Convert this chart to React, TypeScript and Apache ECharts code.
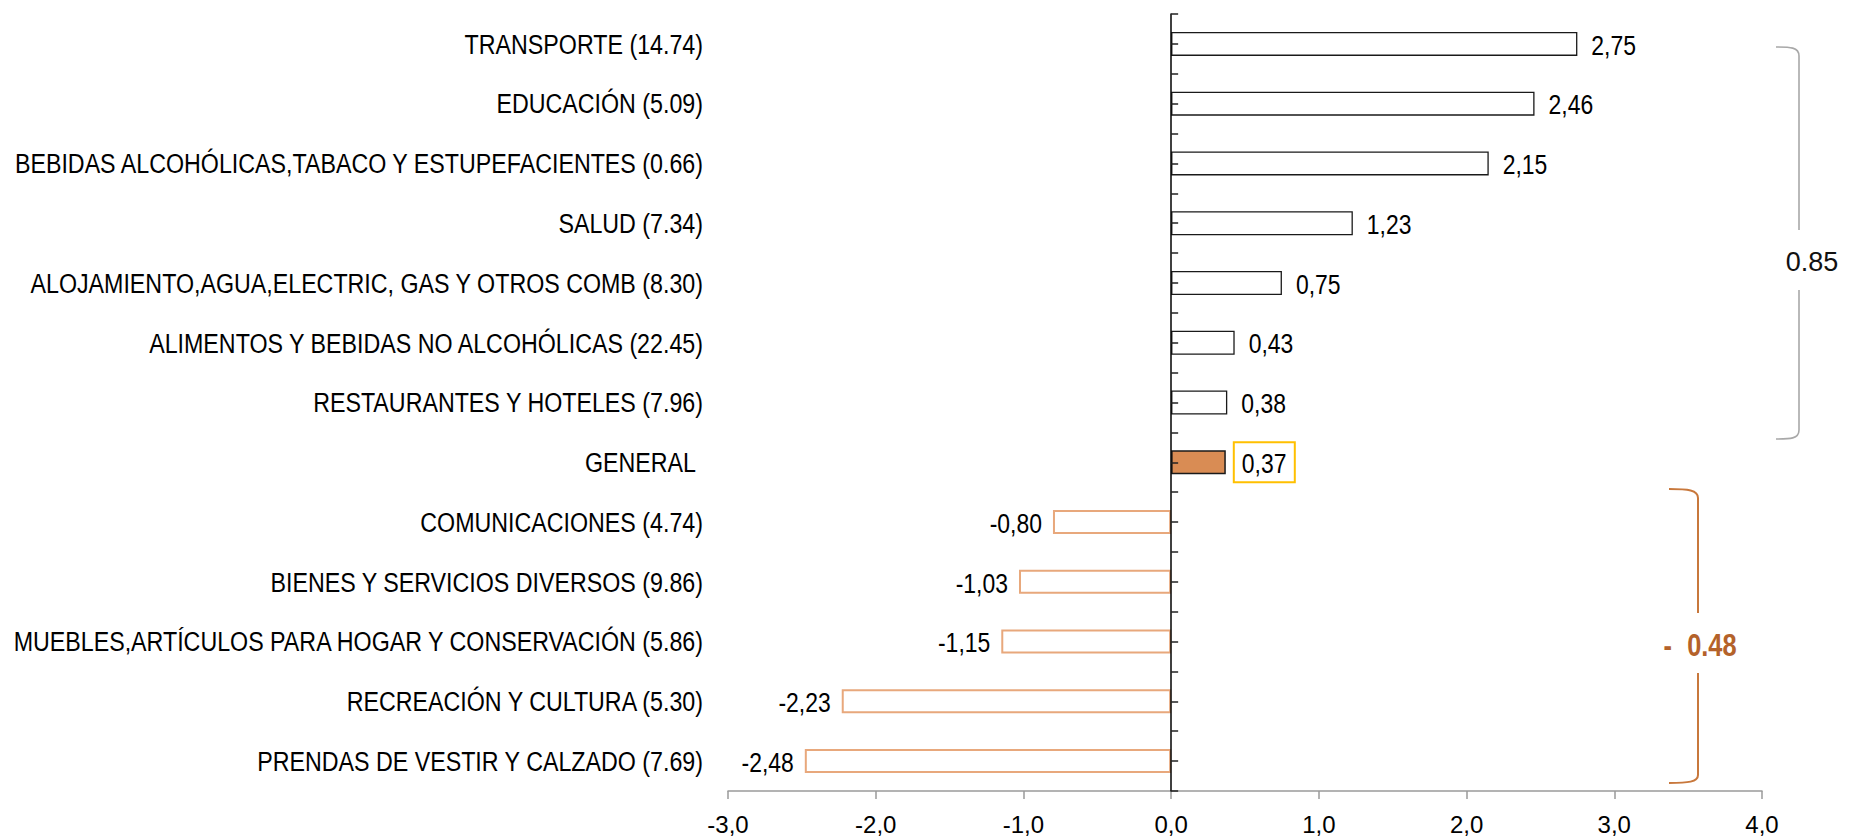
import React, { useEffect, useRef } from "react";
import * as echarts from "echarts";

const categories = [
  "TRANSPORTE",
  "EDUCACIÓN",
  "BEBIDAS ALCOHÓLICAS,TABACO Y ESTUPEFACIENTES",
  "SALUD",
  "ALOJAMIENTO,AGUA,ELECTRIC, GAS Y OTROS COMB",
  "ALIMENTOS Y BEBIDAS NO ALCOHÓLICAS",
  "RESTAURANTES Y HOTELES",
  "GENERAL",
  "COMUNICACIONES",
  "BIENES Y SERVICIOS DIVERSOS",
  "MUEBLES,ARTÍCULOS PARA HOGAR Y CONSERVACIÓN",
  "RECREACIÓN Y CULTURA",
  "PRENDAS DE VESTIR Y CALZADO",
];
const weights = ["14.74", "5.09", "0.66", "7.34", "8.30", "22.45", "7.96", "", "4.74", "9.86", "5.86", "5.30", "7.69"];
const values = [2.75, 2.46, 2.15, 1.23, 0.75, 0.43, 0.38, 0.37, -0.8, -1.03, -1.15, -2.23, -2.48];
const generalName = "GENERAL";
const xMin = -3;
const xMax = 4;
const xStep = 1;
const upGroupText = "0.85";
const downGroupSign = "-";
const downGroupValue = "0.48";

const FONT = '"Liberation Sans", Arial, sans-serif';
const CAT_SCALE = 0.83;
const LBL_SCALE = 0.85;

const fmt = (v: number, d: number) => v.toFixed(d).replace(".", ",");

echarts.graphic.registerShape(
  "braceUp",
  echarts.graphic.extendPath(
    "M1776,47 C1790,47 1799,47 1799,56 L1799,230 M1799,290 L1799,430 C1799,439 1790,439 1776,439",
    {}
  )
);
echarts.graphic.registerShape(
  "braceDown",
  echarts.graphic.extendPath(
    "M1669,489 C1688,489 1698,490 1698,498 L1698,613 M1698,673 L1698,775 C1698,782 1688,783 1669,783",
    {}
  )
);

export default function App() {
  const ref = useRef<HTMLDivElement>(null);
  useEffect(() => {
    document.body.style.margin = "0";
    const chart = echarts.init(ref.current!, undefined, { renderer: "svg" });
    const labels = categories.map((c, i) => (weights[i] ? `${c} (${weights[i]})` : c));
    const data = values.map((v, i) => {
      const isGen = categories[i] === generalName;
      if (isGen) {
        return { value: v, itemStyle: { color: "#D98C54", borderColor: "#1a1a1a", borderWidth: 1.5 } };
      }
      if (v < 0) {
        return { value: v, itemStyle: { color: "#ffffff", borderColor: "#E8A87C", borderWidth: 2 } };
      }
      return { value: v, itemStyle: { color: "#ffffff", borderColor: "#1a1a1a", borderWidth: 1.3 } };
    });
    const nHalf = categories.length * 2;
    chart.setOption({
      animation: false,
      backgroundColor: "#ffffff",
      grid: { left: 728, width: 1034, top: 14, height: 777, outerBoundsMode: "none", containLabel: false },
      xAxis: {
        type: "value",
        min: xMin,
        max: xMax,
        interval: xStep,
        axisLine: { show: true, onZero: false, lineStyle: { color: "#9a9a9a", width: 1.5 } },
        axisTick: { show: true, length: 8, lineStyle: { color: "#9a9a9a", width: 1.5 } },
        splitLine: { show: false },
        axisLabel: {
          margin: 21,
          fontFamily: FONT,
          fontSize: 24,
          color: "#000",
          formatter: (v: number) => fmt(v, 1),
        },
      },
      yAxis: [
        {
          type: "category",
          data: labels,
          inverse: true,
          position: "left",
          axisLine: { show: false, onZero: false },
          axisTick: { show: false },
          axisLabel: { show: false },
        },
        {
          type: "value",
          min: 0,
          max: nHalf,
          interval: 1,
          inverse: true,
          position: "right",
          z: 5,
          axisLine: { show: true, onZero: true, lineStyle: { color: "#000", width: 1.5 } },
          axisTick: { show: true, length: 7, lineStyle: { color: "#222", width: 1.5 } },
          axisLabel: { show: false },
          splitLine: { show: false },
        },
      ],
      series: [
        {
          type: "bar",
          xAxisIndex: 0,
          yAxisIndex: 0,
          barWidth: 24,
          data,
          label: { show: false },
        },
      ],
    });

    // Narrow-looking texts (Arial Narrow ≈ Arial compressed horizontally), placed through the chart's scales
    const graphics: any[] = [];
    const [leftX] = chart.convertToPixel({ xAxisIndex: 0, yAxisIndex: 0 }, [xMin, 0]) as number[];
    labels.forEach((lab, i) => {
      const [, py] = chart.convertToPixel({ xAxisIndex: 0, yAxisIndex: 0 }, [0, i]) as number[];
      const isGen = categories[i] === generalName;
      graphics.push({
        type: "text",
        x: leftX - 25 - (isGen ? 7 : 0),
        y: py,
        scaleX: CAT_SCALE,
        silent: true,
        style: { text: lab, font: `28px ${FONT}`, fill: "#000", align: "right", verticalAlign: "middle" },
      });
    });
    values.forEach((v, i) => {
      const [px, py] = chart.convertToPixel({ xAxisIndex: 0, yAxisIndex: 0 }, [v, i]) as number[];
      const isGen = categories[i] === generalName;
      const txt = fmt(v, 2);
      if (isGen) {
        graphics.push({
          type: "rect",
          silent: true,
          shape: { x: px + 8, y: py - 20, width: 61, height: 40 },
          style: { fill: "#ffffff", stroke: "#FFC000", lineWidth: 2 },
        });
        graphics.push({
          type: "text",
          x: px + 16,
          y: py + 1,
          scaleX: LBL_SCALE,
          silent: true,
          style: { text: txt, font: `27px ${FONT}`, fill: "#000", align: "left", verticalAlign: "middle" },
        });
      } else if (v < 0) {
        graphics.push({
          type: "text",
          x: px - 11,
          y: py + 1,
          scaleX: LBL_SCALE,
          silent: true,
          style: { text: txt, font: `27px ${FONT}`, fill: "#000", align: "right", verticalAlign: "middle" },
        });
      } else {
        graphics.push({
          type: "text",
          x: px + 14,
          y: py + 1,
          scaleX: LBL_SCALE,
          silent: true,
          style: { text: txt, font: `27px ${FONT}`, fill: "#000", align: "left", verticalAlign: "middle" },
        });
      }
    });
    graphics.push(
      { type: "braceUp", x: 0, y: 0, silent: true, style: { stroke: "#A8A8A8", fill: "none", lineWidth: 1.6 } },
      { type: "braceDown", x: 0, y: 0, silent: true, style: { stroke: "#C8783C", fill: "none", lineWidth: 2 } },
      {
        type: "text",
        x: 1812,
        y: 262,
        silent: true,
        style: { text: upGroupText, font: `27px ${FONT}`, fill: "#111", align: "center", verticalAlign: "middle" },
      },
      {
        type: "text",
        x: 1700,
        y: 645,
        scaleX: 0.82,
        silent: true,
        style: {
          text: `{s|${downGroupSign}} {n|${downGroupValue}}`,
          font: `bold 31px ${FONT}`,
          fill: "#B4622A",
          align: "center",
          verticalAlign: "middle",
          rich: {
            s: { font: `bold 31px ${FONT}`, fill: "#B4622A", padding: [0, 10, 0, 0] },
            n: { font: `bold 31px ${FONT}`, fill: "#B4622A" },
          },
        },
      }
    );
    chart.setOption({ graphic: graphics });
    return () => chart.dispose();
  }, []);
  return <div ref={ref} style={{ width: 1856, height: 840 }} />;
}
